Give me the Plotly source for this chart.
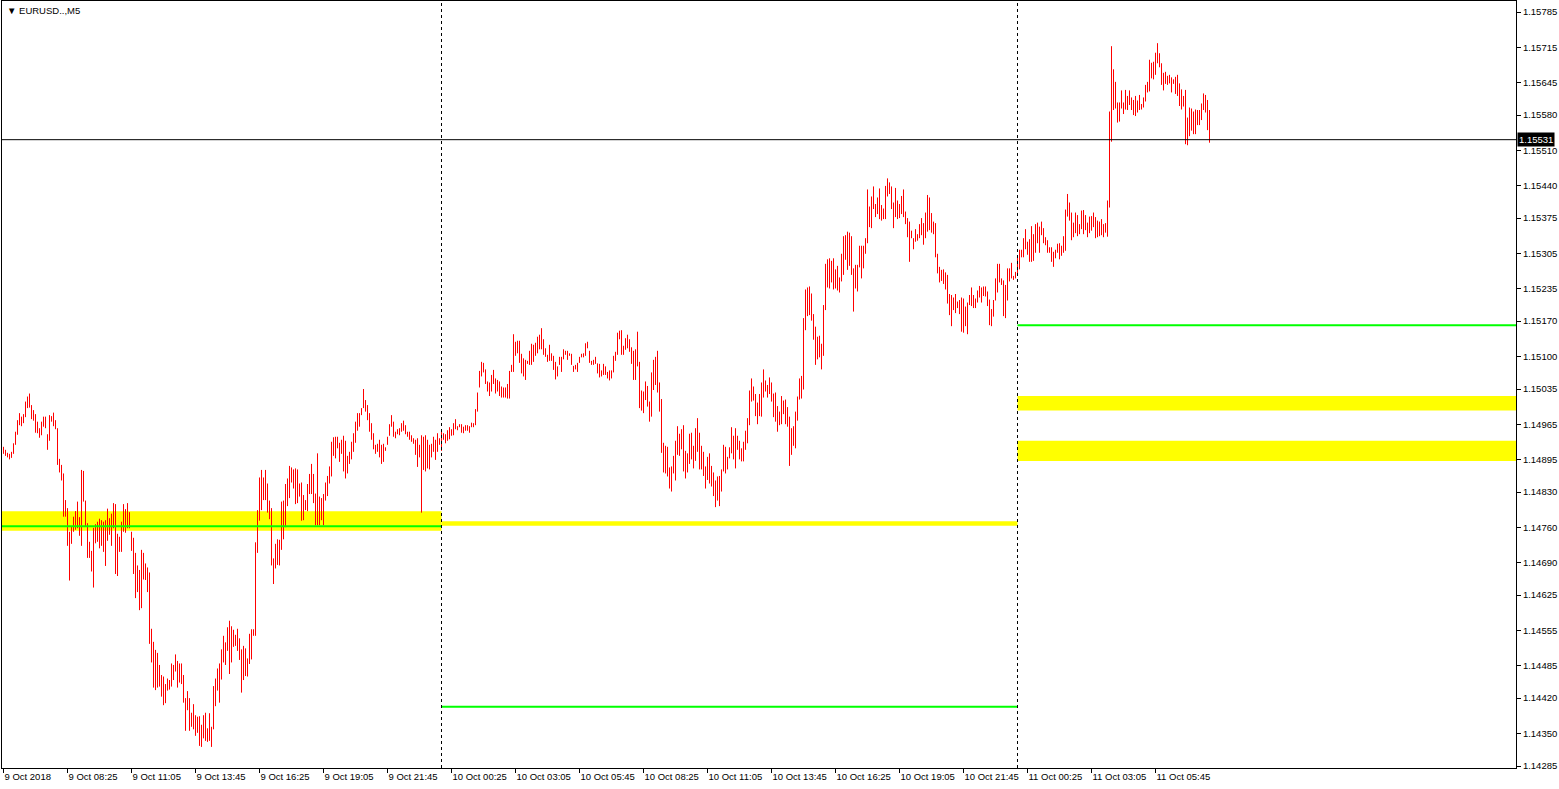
import pandas as pd
import plotly.graph_objects as go

symbol_label = "▼ EURUSD..,M5"
first_bar_time = "2018-10-09 05:45"
bar_minutes = 5
current_price = 1.15531

# M5 bar highs / lows (one value per bar)
high_9oct = [
    1.14920, 1.14914, 1.14908, 1.14906, 1.14910, 1.14927, 1.14950, 1.14973, 1.14987, 1.14980,
    1.14985, 1.15010, 1.15020, 1.15026, 1.15003, 1.14993, 1.14985, 1.14970, 1.14957, 1.14970,
    1.14980, 1.14980, 1.14945, 1.14983, 1.14981, 1.14988, 1.14973, 1.14957, 1.14896, 1.14884,
    1.14867, 1.14814, 1.14798, 1.14751, 1.14761, 1.14781, 1.14792, 1.14811, 1.14780, 1.14874,
    1.14872, 1.14813, 1.14768, 1.14731, 1.14713, 1.14759, 1.14766, 1.14771, 1.14777, 1.14774,
    1.14771, 1.14774, 1.14797, 1.14778, 1.14787, 1.14808, 1.14806, 1.14747, 1.14741, 1.14771,
    1.14806, 1.14796, 1.14808, 1.14790, 1.14751, 1.14739, 1.14709, 1.14684, 1.14675, 1.14715,
    1.14709, 1.14688, 1.14680, 1.14670, 1.14558, 1.14532, 1.14516, 1.14510, 1.14486, 1.14466,
    1.14463, 1.14448, 1.14459, 1.14456, 1.14489, 1.14486, 1.14507, 1.14494, 1.14489, 1.14489,
    1.14466, 1.14420, 1.14434, 1.14420, 1.14391, 1.14408, 1.14386, 1.14383, 1.14384, 1.14367,
    1.14386, 1.14391, 1.14360, 1.14390, 1.14363, 1.14444, 1.14459, 1.14479, 1.14489, 1.14517,
    1.14544, 1.14531, 1.14561, 1.14574, 1.14563, 1.14556, 1.14546, 1.14558, 1.14539, 1.14517,
    1.14524, 1.14519, 1.14499, 1.14548, 1.14557, 1.14557, 1.14730, 1.14794, 1.14859, 1.14874,
    1.14859, 1.14874, 1.14847, 1.14813, 1.14798, 1.14698, 1.14727, 1.14736, 1.14735, 1.14811,
    1.14813, 1.14846, 1.14857, 1.14882, 1.14879, 1.14875, 1.14877, 1.14875, 1.14847, 1.14849,
    1.14824, 1.14814, 1.14846, 1.14866, 1.14886, 1.14866, 1.14827, 1.14907, 1.14821, 1.14818,
    1.14826, 1.14849, 1.14862, 1.14881, 1.14930, 1.14939, 1.14940, 1.14940, 1.14928, 1.14934,
    1.14942, 1.14932, 1.14902, 1.14910, 1.14930, 1.14947, 1.14970, 1.14987, 1.14987, 1.14997,
    1.15035, 1.15013, 1.15003, 1.14987, 1.14967, 1.14947, 1.14924, 1.14926, 1.14934, 1.14924,
    1.14926, 1.14919, 1.14940, 1.14965, 1.14983, 1.14970, 1.14950, 1.14955, 1.14957, 1.14967,
    1.14972, 1.14963, 1.14950, 1.14950, 1.14943, 1.14937, 1.14934, 1.14937, 1.14924, 1.14943,
    1.14940, 1.14943, 1.14934, 1.14924, 1.14926, 1.14940, 1.14934, 1.14947, 1.14937,
]
low_9oct = [
    1.14906, 1.14902, 1.14899, 1.14895, 1.14898, 1.14906, 1.14924, 1.14944, 1.14963, 1.14961,
    1.14967, 1.14979, 1.14997, 1.14998, 1.14975, 1.14972, 1.14948, 1.14947, 1.14938, 1.14943,
    1.14960, 1.14957, 1.14914, 1.14932, 1.14970, 1.14961, 1.14955, 1.14884, 1.14869, 1.14853,
    1.14781, 1.14781, 1.14723, 1.14654, 1.14727, 1.14751, 1.14755, 1.14758, 1.14743, 1.14723,
    1.14811, 1.14761, 1.14699, 1.14699, 1.14672, 1.14640, 1.14728, 1.14731, 1.14718, 1.14723,
    1.14711, 1.14683, 1.14733, 1.14745, 1.14723, 1.14758, 1.14667, 1.14663, 1.14711, 1.14711,
    1.14751, 1.14749, 1.14758, 1.14758, 1.14713, 1.14667, 1.14619, 1.14631, 1.14595, 1.14599,
    1.14656, 1.14655, 1.14631, 1.14528, 1.14491, 1.14441, 1.14436, 1.14441, 1.14443, 1.14423,
    1.14406, 1.14410, 1.14435, 1.14437, 1.14443, 1.14456, 1.14473, 1.14441, 1.14451, 1.14448,
    1.14411, 1.14355, 1.14396, 1.14355, 1.14363, 1.14358, 1.14345, 1.14351, 1.14325, 1.14323,
    1.14340, 1.14335, 1.14333, 1.14335, 1.14323, 1.14358, 1.14404, 1.14435, 1.14411, 1.14457,
    1.14491, 1.14486, 1.14514, 1.14468, 1.14491, 1.14522, 1.14524, 1.14514, 1.14496, 1.14431,
    1.14456, 1.14464, 1.14463, 1.14488, 1.14497, 1.14544, 1.14544, 1.14709, 1.14773, 1.14794,
    1.14814, 1.14814, 1.14789, 1.14776, 1.14684, 1.14647, 1.14678, 1.14685, 1.14684, 1.14715,
    1.14736, 1.14760, 1.14802, 1.14818, 1.14849, 1.14837, 1.14806, 1.14808, 1.14821, 1.14773,
    1.14774, 1.14794, 1.14792, 1.14826, 1.14826, 1.14808, 1.14764, 1.14764, 1.14764, 1.14774,
    1.14764, 1.14813, 1.14822, 1.14847, 1.14861, 1.14902, 1.14897, 1.14917, 1.14890, 1.14906,
    1.14871, 1.14857, 1.14867, 1.14886, 1.14895, 1.14910, 1.14928, 1.14952, 1.14960, 1.14983,
    1.14997, 1.14990, 1.14973, 1.14950, 1.14934, 1.14915, 1.14906, 1.14910, 1.14899, 1.14886,
    1.14890, 1.14912, 1.14924, 1.14942, 1.14960, 1.14940, 1.14937, 1.14945, 1.14943, 1.14950,
    1.14952, 1.14945, 1.14940, 1.14934, 1.14930, 1.14926, 1.14904, 1.14880, 1.14899, 1.14789,
    1.14874, 1.14871, 1.14877, 1.14875, 1.14899, 1.14910, 1.14894, 1.14910, 1.14924,
]
high_10oct = [
    1.14955, 1.14947, 1.14945, 1.14953, 1.14959, 1.14955, 1.14967, 1.14975, 1.14961, 1.14965,
    1.14965, 1.14960, 1.14963, 1.14963, 1.14961, 1.14968, 1.14967, 1.14995, 1.15028, 1.15071,
    1.15089, 1.15087, 1.15074, 1.15050, 1.15048, 1.15063, 1.15073, 1.15056, 1.15053, 1.15050,
    1.15040, 1.15038, 1.15038, 1.15045, 1.15071, 1.15083, 1.15144, 1.15129, 1.15131, 1.15131,
    1.15105, 1.15096, 1.15093, 1.15091, 1.15111, 1.15125, 1.15123, 1.15127, 1.15139, 1.15143,
    1.15156, 1.15134, 1.15116, 1.15103, 1.15123, 1.15106, 1.15101, 1.15089, 1.15080, 1.15099,
    1.15099, 1.15114, 1.15111, 1.15111, 1.15106, 1.15105, 1.15081, 1.15083, 1.15087, 1.15099,
    1.15105, 1.15106, 1.15126, 1.15129, 1.15111, 1.15091, 1.15093, 1.15099, 1.15086, 1.15085,
    1.15072, 1.15085, 1.15080, 1.15069, 1.15072, 1.15072, 1.15101, 1.15109, 1.15147, 1.15151,
    1.15152, 1.15121, 1.15136, 1.15143, 1.15134, 1.15118, 1.15111, 1.15114, 1.15149, 1.15089,
    1.15032, 1.15030, 1.15050, 1.15041, 1.15010, 1.15068, 1.15093, 1.15099, 1.15111, 1.15048,
    1.15015, 1.14928, 1.14922, 1.14920, 1.14879, 1.14881, 1.14902, 1.14932, 1.14961, 1.14946,
    1.14955, 1.14963, 1.14912, 1.14907, 1.14946, 1.14948, 1.14922, 1.14957, 1.14977, 1.14948,
    1.14922, 1.14910, 1.14881, 1.14900, 1.14907, 1.14882, 1.14869, 1.14853, 1.14861, 1.14862,
    1.14875, 1.14924, 1.14920, 1.14900, 1.14919, 1.14959, 1.14942, 1.14957, 1.14942, 1.14932,
    1.14917, 1.14930, 1.14952, 1.14977, 1.15032, 1.15056, 1.15040, 1.15025, 1.15008, 1.15025,
    1.15048, 1.15074, 1.15052, 1.15043, 1.15058, 1.15048, 1.15026, 1.15028, 1.15001, 1.14990,
    1.15021, 1.15012, 1.15014, 1.14999, 1.14980, 1.14957, 1.14961, 1.14990, 1.15020, 1.15056,
    1.15061, 1.15176, 1.15233, 1.15237, 1.15239, 1.15225, 1.15184, 1.15159, 1.15139, 1.15141,
    1.15125, 1.15202, 1.15284, 1.15293, 1.15295, 1.15290, 1.15295, 1.15273, 1.15280, 1.15257,
    1.15304, 1.15339, 1.15341, 1.15348, 1.15346, 1.15339, 1.15275, 1.15282, 1.15282, 1.15320,
    1.15320, 1.15320, 1.15335, 1.15432, 1.15398, 1.15418, 1.15438, 1.15403, 1.15416, 1.15434,
    1.15401, 1.15394, 1.15439, 1.15454, 1.15446, 1.15438, 1.15406, 1.15435, 1.15410, 1.15403,
    1.15419, 1.15432, 1.15388, 1.15375, 1.15368, 1.15350, 1.15335, 1.15353, 1.15343, 1.15363,
    1.15375, 1.15365, 1.15386, 1.15421, 1.15416, 1.15385, 1.15368, 1.15365, 1.15304, 1.15278,
    1.15272, 1.15273, 1.15267, 1.15262, 1.15224, 1.15222, 1.15217, 1.15224, 1.15209, 1.15212,
    1.15217, 1.15215, 1.15199, 1.15207, 1.15222, 1.15237, 1.15222, 1.15215, 1.15231, 1.15240,
    1.15237, 1.15239, 1.15239, 1.15229, 1.15213, 1.15194, 1.15212, 1.15255, 1.15284, 1.15284,
    1.15255, 1.15251, 1.15242, 1.15275, 1.15275, 1.15286, 1.15260, 1.15268,
]
low_10oct = [
    1.14912, 1.14934, 1.14927, 1.14932, 1.14935, 1.14942, 1.14943, 1.14955, 1.14953, 1.14959,
    1.14948, 1.14947, 1.14952, 1.14952, 1.14948, 1.14959, 1.14959, 1.14963, 1.14990, 1.15038,
    1.15060, 1.15068, 1.15045, 1.15030, 1.15021, 1.15030, 1.15045, 1.15026, 1.15030, 1.15021,
    1.15018, 1.15018, 1.15018, 1.15016, 1.15016, 1.15069, 1.15069, 1.15101, 1.15106, 1.15087,
    1.15066, 1.15060, 1.15053, 1.15085, 1.15083, 1.15083, 1.15089, 1.15101, 1.15106, 1.15114,
    1.15114, 1.15103, 1.15099, 1.15089, 1.15091, 1.15091, 1.15073, 1.15054, 1.15060, 1.15083,
    1.15069, 1.15094, 1.15103, 1.15093, 1.15101, 1.15083, 1.15069, 1.15074, 1.15069, 1.15087,
    1.15098, 1.15098, 1.15101, 1.15116, 1.15087, 1.15083, 1.15083, 1.15085, 1.15066, 1.15058,
    1.15060, 1.15063, 1.15063, 1.15056, 1.15052, 1.15056, 1.15068, 1.15091, 1.15103, 1.15134,
    1.15103, 1.15103, 1.15113, 1.15116, 1.15109, 1.15085, 1.15053, 1.15053, 1.15080, 1.14997,
    1.14992, 1.14987, 1.15013, 1.15000, 1.14970, 1.14980, 1.15033, 1.15043, 1.15028, 1.14990,
    1.14908, 1.14869, 1.14867, 1.14861, 1.14837, 1.14831, 1.14867, 1.14853, 1.14904, 1.14902,
    1.14915, 1.14871, 1.14857, 1.14869, 1.14886, 1.14895, 1.14877, 1.14892, 1.14910, 1.14875,
    1.14875, 1.14862, 1.14837, 1.14854, 1.14847, 1.14841, 1.14822, 1.14800, 1.14813, 1.14802,
    1.14831, 1.14871, 1.14867, 1.14875, 1.14897, 1.14907, 1.14895, 1.14877, 1.14914, 1.14895,
    1.14891, 1.14891, 1.14914, 1.14927, 1.14963, 1.15010, 1.15012, 1.14981, 1.14965, 1.14981,
    1.14980, 1.15018, 1.15030, 1.15018, 1.15025, 1.15010, 1.14979, 1.14970, 1.14950, 1.14963,
    1.14965, 1.14985, 1.14965, 1.14960, 1.14882, 1.14904, 1.14922, 1.14917, 1.14972, 1.15014,
    1.15016, 1.15034, 1.15152, 1.15180, 1.15182, 1.15171, 1.15133, 1.15083, 1.15094, 1.15098,
    1.15074, 1.15101, 1.15192, 1.15237, 1.15235, 1.15247, 1.15233, 1.15235, 1.15231, 1.15227,
    1.15249, 1.15262, 1.15292, 1.15272, 1.15280, 1.15262, 1.15189, 1.15235, 1.15229, 1.15277,
    1.15255, 1.15275, 1.15304, 1.15325, 1.15357, 1.15355, 1.15393, 1.15377, 1.15383, 1.15373,
    1.15370, 1.15373, 1.15373, 1.15418, 1.15423, 1.15393, 1.15355, 1.15377, 1.15373, 1.15375,
    1.15383, 1.15377, 1.15363, 1.15337, 1.15288, 1.15335, 1.15313, 1.15328, 1.15330, 1.15335,
    1.15341, 1.15322, 1.15335, 1.15348, 1.15351, 1.15346, 1.15343, 1.15297, 1.15265, 1.15247,
    1.15250, 1.15244, 1.15233, 1.15205, 1.15182, 1.15160, 1.15192, 1.15186, 1.15196, 1.15184,
    1.15149, 1.15147, 1.15160, 1.15144, 1.15202, 1.15200, 1.15196, 1.15196, 1.15207, 1.15217,
    1.15207, 1.15220, 1.15219, 1.15200, 1.15162, 1.15160, 1.15179, 1.15211, 1.15227, 1.15247,
    1.15242, 1.15180, 1.15176, 1.15211, 1.15249, 1.15255, 1.15252, 1.15255,
]
high_11oct = [
    1.15297, 1.15312, 1.15312, 1.15335, 1.15353, 1.15328, 1.15333, 1.15359, 1.15343, 1.15363,
    1.15366, 1.15358, 1.15368, 1.15355, 1.15337, 1.15331, 1.15317, 1.15317, 1.15308, 1.15312,
    1.15324, 1.15325, 1.15320, 1.15339, 1.15392, 1.15423, 1.15406, 1.15386, 1.15366, 1.15386,
    1.15381, 1.15363, 1.15390, 1.15391, 1.15381, 1.15366, 1.15378, 1.15379, 1.15386, 1.15377,
    1.15370, 1.15368, 1.15373, 1.15363, 1.15365, 1.15410, 1.15587, 1.15717, 1.15671, 1.15646,
    1.15605, 1.15605, 1.15629, 1.15605, 1.15630, 1.15618, 1.15629, 1.15615, 1.15610, 1.15618,
    1.15609, 1.15620, 1.15602, 1.15615, 1.15640, 1.15646, 1.15690, 1.15684, 1.15686, 1.15704,
    1.15723, 1.15703, 1.15683, 1.15664, 1.15666, 1.15658, 1.15660, 1.15655, 1.15651, 1.15656,
    1.15660, 1.15643, 1.15631, 1.15618, 1.15630, 1.15575, 1.15595, 1.15593, 1.15587, 1.15591,
    1.15590, 1.15590, 1.15603, 1.15623, 1.15620, 1.15610, 1.15590,
]
low_11oct = [
    1.15264, 1.15273, 1.15297, 1.15297, 1.15313, 1.15302, 1.15288, 1.15288, 1.15290, 1.15306,
    1.15325, 1.15306, 1.15341, 1.15325, 1.15321, 1.15306, 1.15306, 1.15288, 1.15278, 1.15295,
    1.15306, 1.15293, 1.15300, 1.15306, 1.15310, 1.15378, 1.15370, 1.15331, 1.15337, 1.15345,
    1.15339, 1.15343, 1.15353, 1.15343, 1.15351, 1.15337, 1.15345, 1.15350, 1.15357, 1.15335,
    1.15337, 1.15339, 1.15341, 1.15337, 1.15346, 1.15338, 1.15396, 1.15527, 1.15590, 1.15593,
    1.15565, 1.15567, 1.15593, 1.15582, 1.15591, 1.15590, 1.15600, 1.15590, 1.15580, 1.15578,
    1.15585, 1.15590, 1.15591, 1.15595, 1.15607, 1.15625, 1.15627, 1.15653, 1.15651, 1.15660,
    1.15683, 1.15675, 1.15640, 1.15629, 1.15642, 1.15640, 1.15643, 1.15625, 1.15642, 1.15622,
    1.15618, 1.15598, 1.15591, 1.15597, 1.15522, 1.15520, 1.15538, 1.15549, 1.15542, 1.15542,
    1.15560, 1.15560, 1.15570, 1.15590, 1.15585, 1.15550, 1.15525,
]

# right price scale labels
y_tick_labels = [
    "1.15785", "1.15715", "1.15645", "1.15580", "1.15510", "1.15440", "1.15375", "1.15305",
    "1.15235", "1.15170", "1.15100", "1.15035", "1.14965", "1.14895", "1.14830", "1.14760",
    "1.14690", "1.14625", "1.14555", "1.14485", "1.14420", "1.14350", "1.14285",
]
# time scale labels
x_tick_times = [
    "2018-10-09 05:45", "2018-10-09 08:25", "2018-10-09 11:05", "2018-10-09 13:45",
    "2018-10-09 16:25", "2018-10-09 19:05", "2018-10-09 21:45", "2018-10-10 00:25",
    "2018-10-10 03:05", "2018-10-10 05:45", "2018-10-10 08:25", "2018-10-10 11:05",
    "2018-10-10 13:45", "2018-10-10 16:25", "2018-10-10 19:05", "2018-10-10 21:45",
    "2018-10-11 00:25", "2018-10-11 03:05", "2018-10-11 05:45",
]
x_tick_labels = [
    "9 Oct 2018", "9 Oct 08:25", "9 Oct 11:05", "9 Oct 13:45", "9 Oct 16:25",
    "9 Oct 19:05", "9 Oct 21:45", "10 Oct 00:25", "10 Oct 03:05", "10 Oct 05:45",
    "10 Oct 08:25", "10 Oct 11:05", "10 Oct 13:45", "10 Oct 16:25", "10 Oct 19:05",
    "10 Oct 21:45", "11 Oct 00:25", "11 Oct 03:05", "11 Oct 05:45",
]
day_separators = ["2018-10-10 00:00", "2018-10-11 00:00"]

# daily zones (yellow) and levels (green)
yellow_zone_start = ["2018-10-09 00:00", "2018-10-10 00:00", "2018-10-11 00:00", "2018-10-11 00:00"]
yellow_zone_end = ["2018-10-10 00:00", "2018-10-11 00:00", "2018-10-12 00:00", "2018-10-12 00:00"]
yellow_zone_low = [1.14753, 1.14763, 1.14992, 1.14892]
yellow_zone_high = [1.14792, 1.14772, 1.15021, 1.14932]
green_level_start = ["2018-10-09 00:00", "2018-10-10 00:00", "2018-10-11 00:00"]
green_level_end = ["2018-10-10 00:00", "2018-10-11 00:00", "2018-10-12 00:00"]
green_level_price = [1.14762, 1.14403, 1.15162]

# ---------------------------------------------------------------
FONT = "Liberation Sans, Arial, sans-serif"
highs = high_9oct + high_10oct + high_11oct
lows = low_9oct + low_10oct + low_11oct
times = pd.date_range(first_bar_time, periods=len(highs), freq=f"{bar_minutes}min")

bx, by = [], []
for t, h, l in zip(times, highs, lows):
    bx += [t, t, None]
    by += [l, h, None]

fig = go.Figure()
fig.add_trace(go.Scatter(x=bx, y=by, mode="lines",
                         line=dict(color="#FF0000", width=1),
                         hoverinfo="skip", showlegend=False))

shapes = []
for x0, x1, lo, hi in zip(yellow_zone_start, yellow_zone_end, yellow_zone_low, yellow_zone_high):
    shapes.append(dict(type="rect", xref="x", yref="y", x0=x0, x1=x1, y0=lo, y1=hi,
                       fillcolor="#FFFF00", line=dict(width=0), layer="below"))
for x0, x1, p in zip(green_level_start, green_level_end, green_level_price):
    shapes.append(dict(type="line", xref="x", yref="y", x0=x0, x1=x1, y0=p, y1=p,
                       line=dict(color="#00FF00", width=2), layer="above"))
for d in day_separators:
    shapes.append(dict(type="line", xref="x", yref="paper", x0=d, x1=d, y0=0, y1=1,
                       line=dict(color="black", width=1, dash="3px,3px"), layer="above"))
shapes.append(dict(type="line", xref="paper", yref="y", x0=0, x1=1,
                   y0=current_price, y1=current_price,
                   line=dict(color="black", width=1), layer="above"))

# geometry: 2 px per bar, plot area 1514 px wide
W, H = 1559, 789
ml, mr, mt, mb = 2, 43, 1, 21
plot_w = W - ml - mr
step = pd.Timedelta(minutes=bar_minutes)
t0 = pd.Timestamp(first_bar_time)
x_lo = t0 - 0.75 * step
x_hi = x_lo + (plot_w / 2.0) * step

# price scale: label 1.15785 at y=12, 1.14285 at y=766 (pixels)
ppp = (float(y_tick_labels[0]) - float(y_tick_labels[-1])) / (766 - 12)
y_top = float(y_tick_labels[0]) + (12 - mt) * ppp
y_bot = float(y_tick_labels[-1]) - ((H - mb) - 766) * ppp

tickfont = dict(family=FONT, size=9.5, color="black")
fig.update_layout(
    width=W, height=H,
    margin=dict(l=ml, r=mr, t=mt, b=mb, pad=0),
    paper_bgcolor="white", plot_bgcolor="white",
    showlegend=False, shapes=shapes,
    xaxis=dict(type="date", range=[x_lo, x_hi], showgrid=False, zeroline=False,
               showline=True, mirror=True, linecolor="black", linewidth=1,
               ticks="outside", ticklen=4, tickcolor="black", tickwidth=1,
               tickvals=x_tick_times, ticktext=x_tick_labels,
               ticklabelposition="outside right", tickfont=tickfont,
               automargin=False, fixedrange=True),
    yaxis=dict(range=[y_bot, y_top], side="right", showgrid=False, zeroline=False,
               showline=True, mirror=True, linecolor="black", linewidth=1,
               ticks="outside", ticklen=4, tickcolor="black", tickwidth=1,
               tickvals=[float(s) for s in y_tick_labels], ticktext=y_tick_labels,
               tickfont=tickfont, automargin=False, fixedrange=True),
    annotations=[
        dict(xref="paper", yref="paper", x=0, y=1, xanchor="left", yanchor="top",
             xshift=3, yshift=-2, text=symbol_label, showarrow=False,
             font=dict(family=FONT, size=9.5, color="black")),
        dict(xref="paper", yref="y", x=1, y=current_price, xanchor="left", yanchor="middle",
             xshift=1, text=f"{current_price:.5f}", showarrow=False, bgcolor="black",
             borderpad=1, font=dict(family=FONT, size=9.5, color="white")),
    ],
)

fig.write_html("out.html", config={"displayModeBar": False},
               post_script="document.body.style.margin='0px';")
